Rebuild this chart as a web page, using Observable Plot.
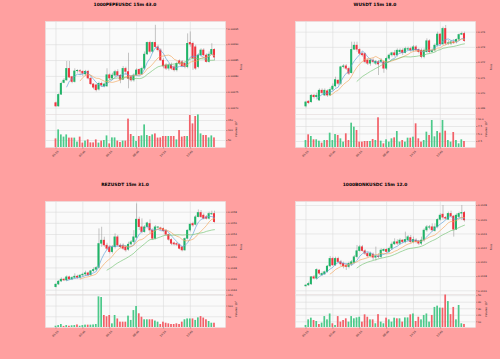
<!DOCTYPE html>
<html><head><meta charset="utf-8">
<script src="https://cdn.jsdelivr.net/npm/d3@7"></script>
<script src="https://cdn.jsdelivr.net/npm/@observablehq/plot@0.6"></script>
<style>
html,body{margin:0;padding:0}
body{width:500px;height:359px;background:#ffa0a0;position:relative;overflow:hidden;font-family:"DejaVu Sans",sans-serif}
.panel{position:absolute;width:250px;height:179px}
.title{position:absolute;left:0;width:250px;top:1.5px;text-align:center;font-weight:bold;font-size:4.4px;line-height:5px;color:#000}
.plot{position:absolute;left:45px;width:215px}
.plot svg{display:block;overflow:visible;max-width:none !important}
.ylab{position:absolute;font-size:2.6px;line-height:3px;color:#222;white-space:nowrap;transform:translate(-50%,-50%) rotate(-90deg)}
</style></head><body>
<script>
// ---------- shared x tick labels (15m candles, one label every 10 bars)
const xTickIdx = [0, 10, 20, 30, 40, 50];
const xTickLabels = ["01:15", "03:45", "06:15", "08:45", "11:15", "13:45"];

// ---------- 1000PEPEUSDC
const pepeTitle = "1000PEPEUSDC 15m 43.0";
const pepeOpen = [0.006716,0.006705,0.006742,0.006779,0.006787,0.006824,0.006798,0.006782,0.006816,0.006817,0.006815,0.006806,0.006815,0.006793,0.006775,0.006772,0.006758,0.006777,0.006768,0.006768,0.006804,0.006793,0.006802,0.006814,0.006802,0.006789,0.006824,0.006814,0.006798,0.006787,0.006803,0.006821,0.006806,0.006824,0.006869,0.006906,0.006877,0.006906,0.006892,0.006882,0.006850,0.006835,0.006824,0.006835,0.006829,0.006819,0.006848,0.006845,0.006840,0.006829,0.006906,0.006903,0.006892,0.006829,0.006866,0.006882,0.006866,0.006845,0.006869,0.006884];
const pepeClose = [0.006705,0.006742,0.006777,0.006787,0.006824,0.006796,0.006782,0.006816,0.006818,0.006815,0.006808,0.006815,0.006793,0.006775,0.006764,0.006756,0.006777,0.006771,0.006775,0.006804,0.006793,0.006803,0.006814,0.006802,0.006789,0.006824,0.006814,0.006792,0.006787,0.006803,0.006819,0.006806,0.006824,0.006869,0.006906,0.006877,0.006906,0.006892,0.006882,0.006850,0.006831,0.006824,0.006835,0.006824,0.006819,0.006840,0.006840,0.006831,0.006829,0.006903,0.006900,0.006856,0.006824,0.006866,0.006882,0.006866,0.006845,0.006869,0.006884,0.006859];
const pepeHigh = [0.006719,0.006745,0.006782,0.006793,0.006847,0.006847,0.006800,0.006824,0.006821,0.006821,0.006817,0.006819,0.006819,0.006798,0.006777,0.006775,0.006782,0.006782,0.006779,0.006824,0.006808,0.006810,0.006819,0.006821,0.006806,0.006831,0.006829,0.006873,0.006803,0.006808,0.006824,0.006824,0.006829,0.006877,0.006908,0.006911,0.006908,0.006961,0.006898,0.006887,0.006856,0.006840,0.006840,0.006842,0.006835,0.006845,0.006852,0.006850,0.006845,0.006934,0.006940,0.006908,0.006898,0.006871,0.006887,0.006887,0.006871,0.006877,0.006903,0.006887];
const pepeLow = [0.006703,0.006703,0.006740,0.006777,0.006785,0.006793,0.006777,0.006779,0.006810,0.006803,0.006800,0.006800,0.006789,0.006771,0.006758,0.006751,0.006754,0.006766,0.006764,0.006766,0.006787,0.006787,0.006798,0.006798,0.006777,0.006787,0.006803,0.006761,0.006782,0.006782,0.006800,0.006802,0.006803,0.006819,0.006866,0.006871,0.006873,0.006887,0.006877,0.006847,0.006824,0.006819,0.006817,0.006819,0.006814,0.006814,0.006835,0.006829,0.006824,0.006824,0.006892,0.006819,0.006819,0.006824,0.006861,0.006861,0.006842,0.006842,0.006866,0.006850];
const pepeVolume = [58,103,78,67,78,62,62,62,42,67,37,47,53,38,38,53,37,47,50,73,33,63,63,47,40,47,47,157,80,70,45,70,73,128,75,70,78,83,62,63,70,70,70,70,70,53,100,67,70,70,175,133,170,178,83,75,75,63,73,63];
const pepePriceTicks = [0.00670,0.00675,0.00680,0.00685,0.00690,0.00695];
const pepeVolTicks = [50,100,150];

// ---------- WUSDT
const wTitle = "WUSDT 15m 18.0";
const wOpen = [0.06911,0.06944,0.06939,0.06983,0.06972,0.06950,0.07016,0.06983,0.07012,0.06983,0.07021,0.07043,0.07082,0.07060,0.07170,0.07176,0.07159,0.07130,0.07284,0.07312,0.07284,0.07257,0.07257,0.07214,0.07192,0.07214,0.07192,0.07203,0.07203,0.07203,0.07159,0.07225,0.07247,0.07262,0.07247,0.07268,0.07279,0.07262,0.07284,0.07290,0.07279,0.07301,0.07284,0.07279,0.07236,0.07268,0.07341,0.07268,0.07279,0.07312,0.07385,0.07319,0.07422,0.07323,0.07323,0.07334,0.07334,0.07350,0.07382,0.07389];
const wClose = [0.06939,0.06933,0.06983,0.06972,0.06983,0.07016,0.06999,0.07016,0.06983,0.07021,0.07043,0.07086,0.07060,0.07170,0.07176,0.07159,0.07126,0.07284,0.07312,0.07284,0.07257,0.07247,0.07203,0.07192,0.07214,0.07203,0.07207,0.07187,0.07214,0.07159,0.07225,0.07247,0.07262,0.07247,0.07279,0.07279,0.07262,0.07290,0.07290,0.07279,0.07301,0.07279,0.07268,0.07236,0.07279,0.07341,0.07268,0.07279,0.07312,0.07385,0.07319,0.07422,0.07323,0.07328,0.07334,0.07328,0.07350,0.07382,0.07389,0.07341];
const wHigh = [0.06946,0.06950,0.06990,0.06990,0.06999,0.07027,0.07027,0.07027,0.07021,0.07034,0.07060,0.07104,0.07086,0.07176,0.07187,0.07187,0.07170,0.07334,0.07334,0.07334,0.07290,0.07268,0.07262,0.07225,0.07225,0.07225,0.07214,0.07214,0.07225,0.07214,0.07236,0.07257,0.07268,0.07279,0.07290,0.07290,0.07290,0.07301,0.07301,0.07301,0.07312,0.07312,0.07290,0.07290,0.07290,0.07356,0.07350,0.07290,0.07323,0.07400,0.07389,0.07433,0.07444,0.07345,0.07345,0.07350,0.07356,0.07389,0.07400,0.07400];
const wLow = [0.06902,0.06924,0.06933,0.06961,0.06961,0.06946,0.06990,0.06977,0.06972,0.06977,0.07012,0.07034,0.07049,0.07049,0.07159,0.07148,0.07115,0.07126,0.07279,0.07268,0.07247,0.07236,0.07192,0.07181,0.07176,0.07192,0.07181,0.07115,0.07192,0.07130,0.07148,0.07214,0.07236,0.07236,0.07236,0.07257,0.07247,0.07257,0.07279,0.07268,0.07268,0.07268,0.07257,0.07225,0.07225,0.07262,0.07257,0.07262,0.07268,0.07301,0.07312,0.07312,0.07312,0.07312,0.07312,0.07319,0.07323,0.07341,0.07378,0.07334];
const wVolume = [2.83,4.72,4.17,3.06,3.06,2.61,1.94,2.83,2.83,5.28,2.83,4.83,4.5,3.39,2.28,5.06,2.83,8.61,7.28,6.17,2.28,2.28,2.5,2.5,2.5,3.17,2.83,10.4,2.61,1.72,3.06,2.28,3.39,3.72,5.83,2.28,2.83,2.28,3.61,3.61,3.94,8.39,3.39,2.28,2.83,5.61,4.5,9.5,4.06,5.83,5.28,9.5,5.94,2.83,2.28,5.5,2.83,1.72,3.06,2.5];
const wPriceTicks = [0.069,0.070,0.071,0.072,0.073,0.074];
const wVolTicks = [2.5,5.0,7.5,10.0];

// ---------- REZUSDT
const rezTitle = "REZUSDT 15m 31.0";
const rezOpen = [0.014453,0.014501,0.014555,0.014591,0.014573,0.014633,0.014591,0.014621,0.014645,0.014621,0.014663,0.014681,0.014705,0.014669,0.014741,0.014765,0.014800,0.015231,0.015291,0.015201,0.015171,0.015082,0.015171,0.015351,0.015201,0.015201,0.015171,0.015124,0.015219,0.015261,0.015339,0.015668,0.015530,0.015441,0.015530,0.015590,0.015470,0.015321,0.015518,0.015512,0.015500,0.015470,0.015393,0.015303,0.015243,0.015231,0.015213,0.015171,0.015112,0.015321,0.015470,0.015590,0.015572,0.015710,0.015788,0.015740,0.015710,0.015680,0.015758,0.015770];
const rezClose = [0.014501,0.014555,0.014591,0.014573,0.014633,0.014591,0.014621,0.014645,0.014621,0.014663,0.014681,0.014705,0.014669,0.014741,0.014765,0.014800,0.015231,0.015291,0.015201,0.015141,0.015082,0.015171,0.015351,0.015201,0.015171,0.015141,0.015112,0.015219,0.015261,0.015351,0.015668,0.015530,0.015441,0.015530,0.015602,0.015470,0.015321,0.015530,0.015530,0.015488,0.015459,0.015393,0.015303,0.015231,0.015219,0.015213,0.015141,0.015112,0.015321,0.015470,0.015578,0.015560,0.015710,0.015788,0.015710,0.015680,0.015680,0.015770,0.015770,0.015620];
const rezHigh = [0.014513,0.014573,0.014621,0.014615,0.014657,0.014651,0.014645,0.014693,0.014669,0.014681,0.014705,0.014741,0.014723,0.014753,0.014800,0.014824,0.015500,0.015530,0.015351,0.015243,0.015201,0.015201,0.015411,0.015381,0.015231,0.015231,0.015201,0.015261,0.015291,0.015470,0.015949,0.015710,0.015680,0.015560,0.015620,0.015662,0.015500,0.015560,0.015542,0.015530,0.015518,0.015482,0.015411,0.015321,0.015261,0.015255,0.015231,0.015183,0.015339,0.015482,0.015602,0.015620,0.015740,0.015841,0.015830,0.015770,0.015740,0.015800,0.015818,0.015818];
const rezLow = [0.014441,0.014483,0.014537,0.014555,0.014555,0.014573,0.014573,0.014603,0.014597,0.014597,0.014633,0.014645,0.014645,0.014645,0.014717,0.014741,0.014777,0.015171,0.015171,0.015112,0.015052,0.015052,0.015141,0.015183,0.015141,0.015112,0.015082,0.015100,0.015195,0.015231,0.015321,0.015470,0.015411,0.015423,0.015500,0.015411,0.015291,0.015303,0.015494,0.015470,0.015441,0.015363,0.015279,0.015201,0.015195,0.015183,0.015124,0.015088,0.015100,0.015303,0.015441,0.015530,0.015554,0.015698,0.015686,0.015662,0.015662,0.015662,0.015740,0.015602];
const rezVolume = [6,9,14,5,9,6,8,9,12,6,9,11,11,11,12,14,143,140,56,50,56,17,56,40,25,25,25,53,33,79,98,64,48,36,36,36,36,30,25,14,25,20,17,14,14,17,14,25,36,40,40,40,33,45,51,44,36,28,20,20];
const rezPriceTicks = [0.0144,0.0146,0.0148,0.0150,0.0152,0.0154,0.0156,0.0158];
const rezVolTicks = [50,100,150];

// ---------- 1000BONKUSDC
const bonkTitle = "1000BONKUSDC 15m 12.0";
const bonkOpen = [0.011661,0.011675,0.011689,0.011792,0.011769,0.011886,0.011816,0.011830,0.011863,0.011942,0.012050,0.011956,0.012050,0.012003,0.011980,0.011956,0.011933,0.011970,0.011989,0.012073,0.012158,0.012214,0.012158,0.012120,0.012083,0.012111,0.012064,0.012083,0.012073,0.012158,0.012177,0.012144,0.012191,0.012252,0.012284,0.012261,0.012308,0.012284,0.012308,0.012345,0.012284,0.012308,0.012294,0.012261,0.012308,0.012448,0.012486,0.012495,0.012439,0.012495,0.012598,0.012673,0.012627,0.012598,0.012683,0.012645,0.012458,0.012636,0.012683,0.012697];
const bonkClose = [0.011675,0.011698,0.011792,0.011769,0.011895,0.011839,0.011839,0.011863,0.011942,0.012050,0.011956,0.012050,0.012003,0.011970,0.011942,0.011933,0.011980,0.012003,0.012073,0.012158,0.012214,0.012158,0.012120,0.012083,0.012120,0.012064,0.012083,0.012073,0.012167,0.012177,0.012144,0.012191,0.012252,0.012284,0.012261,0.012308,0.012284,0.012317,0.012355,0.012284,0.012317,0.012284,0.012261,0.012308,0.012448,0.012495,0.012495,0.012448,0.012495,0.012598,0.012659,0.012627,0.012613,0.012683,0.012645,0.012458,0.012659,0.012683,0.012697,0.012589];
const bonkHigh = [0.011689,0.011722,0.011802,0.011816,0.011909,0.011895,0.011863,0.011877,0.011956,0.012083,0.012073,0.012073,0.012073,0.012027,0.012003,0.011980,0.012003,0.012027,0.012097,0.012238,0.012238,0.012238,0.012177,0.012144,0.012144,0.012130,0.012214,0.012120,0.012191,0.012191,0.012191,0.012214,0.012284,0.012331,0.012317,0.012331,0.012317,0.012425,0.012378,0.012378,0.012355,0.012331,0.012308,0.012355,0.012472,0.012519,0.012519,0.012542,0.012542,0.012613,0.012683,0.012800,0.012645,0.012706,0.012720,0.012659,0.012683,0.012706,0.012800,0.012716];
const bonkLow = [0.011652,0.011661,0.011675,0.011755,0.011755,0.011816,0.011802,0.011816,0.011848,0.011923,0.011942,0.011942,0.011980,0.011942,0.011909,0.011886,0.011909,0.011942,0.011980,0.012050,0.012144,0.012144,0.012097,0.012064,0.012064,0.012027,0.012017,0.012050,0.012050,0.012144,0.012130,0.012130,0.012167,0.012238,0.012238,0.012238,0.012261,0.012261,0.012284,0.012261,0.012261,0.012261,0.012238,0.012238,0.012284,0.012425,0.012458,0.012425,0.012425,0.012472,0.012580,0.012598,0.012598,0.012589,0.012636,0.012355,0.012448,0.012613,0.012589,0.012566];
const bonkVolume = [4.4,13,15.6,12,10.5,5.9,8,18,13,22,7,4.4,18,9.5,12,14.6,9.5,18,14.6,16,17,9.5,20.7,17,13,13,7,21,9.5,7,15.6,13,9.5,15.6,14.6,14.6,9.5,16,16,20.7,22,10.5,17,13,19.7,22,9.5,19.7,32,34,31,30.9,51,41,21,32,13,35,7,6];
const bonkPriceTicks = [0.0116,0.0118,0.0120,0.0122,0.0124,0.0126,0.0128];
const bonkVolTicks = [10,20,30,40,50];

// ---------- panel configuration (layout, scales)
const panels = [
  {title: pepeTitle, left: 0, top: 0, o: pepeOpen, h: pepeHigh, l: pepeLow, c: pepeClose, v: pepeVolume,
   yDomain: [0.006680, 0.006973], yTicks: pepePriceTicks, yDigits: 5, vDomain: [15, 180], vTicks: pepeVolTicks, vDigits: 0},
  {title: wTitle, left: 250, top: 0, o: wOpen, h: wHigh, l: wLow, c: wClose, v: wVolume,
   yDomain: [0.06859, 0.0747], yTicks: wPriceTicks, yDigits: 3, vDomain: [0.5, 11.5], vTicks: wVolTicks, vDigits: 1},
  {title: rezTitle, left: 0, top: 180, o: rezOpen, h: rezHigh, l: rezLow, c: rezClose, v: rezVolume,
   yDomain: [0.014323, 0.015992], yTicks: rezPriceTicks, yDigits: 4, vDomain: [0, 154], vTicks: rezVolTicks, vDigits: 0},
  {title: bonkTitle, left: 250, top: 180, o: bonkOpen, h: bonkHigh, l: bonkLow, c: bonkClose, v: bonkVolume,
   yDomain: [0.011548, 0.012856], yTicks: bonkPriceTicks, yDigits: 4, vDomain: [1.3, 51.8], vTicks: bonkVolTicks, vDigits: 0}
];

const UP = "#1fb468", DOWN = "#f0343f";
const UPV = "#4cc98a", DOWNV = "#f26068";
const MA_COLORS = ["#5d9fd8", "#f2a55c", "#72c272"];
const GRID = "#dcdcdc";
const xDomain = [-3.9, 63.1];
const plotStyle = {fontFamily: "DejaVu Sans", fontSize: "2.5px", color: "#222", background: "transparent", overflow: "visible"};

function sma(rows, n) {
  const out = [];
  for (let i = n - 1; i < rows.length; i++) out.push({i, v: d3.mean(rows.slice(i - n + 1, i + 1), r => r.c)});
  return out;
}

for (const p of panels) {
  const div = document.createElement("div");
  div.className = "panel";
  div.style.left = p.left + "px";
  div.style.top = p.top + "px";
  document.body.appendChild(div);

  const t = document.createElement("div");
  t.className = "title"; t.textContent = p.title; div.appendChild(t);

  const rows = p.o.map((o, i) => ({i, o, h: p.h[i], l: p.l[i], c: p.c[i], v: p.v[i], up: p.c[i] >= o}));

  const price = Plot.plot({
    width: 215, height: 93, marginLeft: 0, marginRight: 35, marginTop: 0, marginBottom: 0,
    style: plotStyle,
    x: {domain: xDomain, axis: null},
    y: {domain: p.yDomain},
    marks: [
      Plot.frame({fill: "#fafafa", stroke: "#e4e4e4", strokeWidth: 0.5}),
      Plot.gridX(xTickIdx, {stroke: GRID, strokeOpacity: 1, strokeWidth: 0.6}),
      Plot.gridY(p.yTicks, {stroke: GRID, strokeOpacity: 1, strokeWidth: 0.6}),
      Plot.axisY(p.yTicks, {anchor: "right", tickSize: 1.5, tickPadding: 1, stroke: "#555", strokeWidth: 0.4,
        tickFormat: d => d.toFixed(p.yDigits), label: null}),
      Plot.ruleX(rows, {x: "i", y1: "l", y2: "h", stroke: "#8c8c8c", strokeWidth: 0.5}),
      Plot.rect(rows, {x1: d => d.i - 0.38, x2: d => d.i + 0.38, y1: "o", y2: "c",
        fill: d => d.up ? UP : DOWN, insetTop: -0.2, insetBottom: -0.2}),
      Plot.line(sma(rows, 5), {x: "i", y: "v", stroke: MA_COLORS[0], strokeWidth: 0.65}),
      Plot.line(sma(rows, 10), {x: "i", y: "v", stroke: MA_COLORS[1], strokeWidth: 0.65}),
      Plot.line(sma(rows, 20), {x: "i", y: "v", stroke: MA_COLORS[2], strokeWidth: 0.65})
    ]
  });
  const pw = document.createElement("div");
  pw.className = "plot"; pw.style.top = "21px"; pw.appendChild(price); div.appendChild(pw);

  const vol = Plot.plot({
    width: 215, height: 53, marginLeft: 0, marginRight: 35, marginTop: 0, marginBottom: 20,
    style: plotStyle,
    x: {domain: xDomain, axis: null},
    y: {domain: p.vDomain},
    marks: [
      Plot.frame({fill: "#fafafa", stroke: "#e4e4e4", strokeWidth: 0.5}),
      Plot.gridX(xTickIdx, {stroke: GRID, strokeOpacity: 1, strokeWidth: 0.6}),
      Plot.gridY(p.vTicks, {stroke: GRID, strokeOpacity: 1, strokeWidth: 0.6}),
      Plot.axisY(p.vTicks, {anchor: "right", tickSize: 1.5, tickPadding: 1, stroke: "#555", strokeWidth: 0.4,
        tickFormat: d => d.toFixed(p.vDigits), label: null}),
      Plot.rect(rows, {x1: d => d.i - 0.32, x2: d => d.i + 0.32, y1: () => 0, y2: "v",
        fill: d => d.up ? UPV : DOWNV, clip: true}),
      Plot.axisX(xTickIdx, {anchor: "bottom", tickSize: 1.5, tickFormat: () => "", stroke: "#555", strokeWidth: 0.4, label: null}),
      Plot.text(xTickIdx, {x: d => d, text: (d, i) => xTickLabels[i], frameAnchor: "bottom", dy: 6.8,
        rotate: -45, fill: "#222", fontSize: 2.7})
    ]
  });
  const vw = document.createElement("div");
  vw.className = "plot"; vw.style.top = "114px"; vw.appendChild(vol); div.appendChild(vw);

  const pl = document.createElement("div");
  pl.className = "ylab"; pl.style.left = "241px"; pl.style.top = "67px"; pl.textContent = "Price";
  div.appendChild(pl);
  const vl = document.createElement("div");
  vl.className = "ylab"; vl.style.left = "236px"; vl.style.top = "129px";
  vl.innerHTML = "Volume &nbsp;10<sup style=\"font-size:1.8px\">7</sup>";
  div.appendChild(vl);
}
</script>
</body></html>
